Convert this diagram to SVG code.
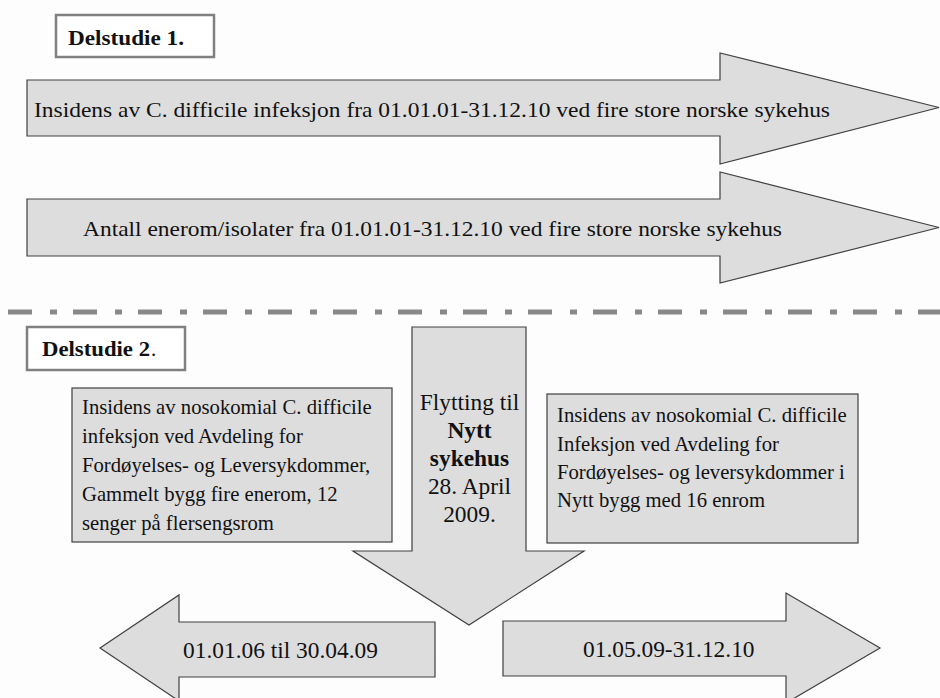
<svg xmlns="http://www.w3.org/2000/svg" width="940" height="698" viewBox="0 0 940 698">
  <style>
    .shape { fill: #dddddd; stroke: #404040; stroke-width: 1.2; }
    .label { fill: #ffffff; stroke: #808080; stroke-width: 2.5; }
    .t { font-family: "Liberation Serif", "Times New Roman", serif; font-size: 20.7px; fill: #111111; }
    .big { font-size: 23.4px; }
    .b { font-weight: bold; }
    .c { text-anchor: middle; }
  </style>
  <rect width="940" height="698" fill="#fdfdfd"/>

  <!-- Part 1 -->
  <g id="delstudie1">
    <rect class="label" x="56" y="15" width="158" height="42"/>
    <text class="t b" x="68" y="45" font-size="21" textLength="116" lengthAdjust="spacingAndGlyphs">Delstudie 1.</text>
  </g>

  <g id="arrow-incidence">
    <polygon class="shape" points="27,80 720,80 720,53 939,107.5 720,164 720,136 27,136"/>
    <text class="t" x="34" y="117" font-size="22.5" textLength="796" lengthAdjust="spacingAndGlyphs">Insidens av C. difficile infeksjon fra 01.01.01-31.12.10 ved fire store norske sykehus</text>
  </g>

  <g id="arrow-rooms">
    <polygon class="shape" points="27,199 720,199 720,172 939,227.5 720,283 720,256 27,256"/>
    <text class="t" x="83" y="236" font-size="22.5" textLength="699" lengthAdjust="spacingAndGlyphs">Antall enerom/isolater fra 01.01.01-31.12.10 ved fire store norske sykehus</text>
  </g>

  <!-- Separator between the two parts -->
  <g id="separator">
    <line x1="8" y1="312" x2="940" y2="312" stroke="#888888" stroke-width="5" stroke-dasharray="24 18 7 16"/>
  </g>

  <!-- Part 2 -->
  <g id="delstudie2">
    <rect class="label" x="27" y="327" width="158" height="43"/>
    <text class="t b" x="42" y="356" font-size="21" textLength="108" lengthAdjust="spacingAndGlyphs">Delstudie 2</text>
    <text class="t" x="151" y="356">.</text>
  </g>

  <g id="box-old">
    <rect class="shape" x="72" y="388" width="320" height="154"/>
    <text class="t" x="82" y="414">Insidens av nosokomial C. difficile</text>
    <text class="t" x="82" y="443">infeksjon ved Avdeling for</text>
    <text class="t" x="82" y="472">Fordøyelses- og Leversykdommer,</text>
    <text class="t" x="82" y="501">Gammelt bygg fire enerom, 12</text>
    <text class="t" x="82" y="530">senger på flersengsrom</text>
  </g>

  <g id="box-new">
    <rect class="shape" x="547" y="394" width="311" height="149"/>
    <text class="t" x="557" y="422">Insidens av nosokomial C. difficile</text>
    <text class="t" x="557" y="451">Infeksjon ved Avdeling for</text>
    <text class="t" x="557" y="479">Fordøyelses- og leversykdommer i</text>
    <text class="t" x="557" y="507">Nytt bygg med 16 enrom</text>
  </g>

  <g id="arrow-move">
    <polygon class="shape" points="412,327 526,327 526,551 584,551 469,625 353,551 412,551"/>
    <text class="t big c" x="469.5" y="410">Flytting til</text>
    <text class="t big c b" x="469.5" y="438">Nytt</text>
    <text class="t big c b" x="469.5" y="466">sykehus</text>
    <text class="t big c" x="469.5" y="494">28. April</text>
    <text class="t big c" x="469.5" y="522">2009.</text>
  </g>

  <g id="arrow-before">
    <polygon class="shape" points="100,648 179,595 179,622 435,622 435,677 179,677 179,701"/>
    <text class="t big" x="183" y="658">01.01.06 til 30.04.09</text>
  </g>

  <g id="arrow-after">
    <polygon class="shape" points="503,621 786,621 786,593 880,648 786,703 786,676 503,676"/>
    <text class="t big" x="583" y="657">01.05.09-31.12.10</text>
  </g>
</svg>
